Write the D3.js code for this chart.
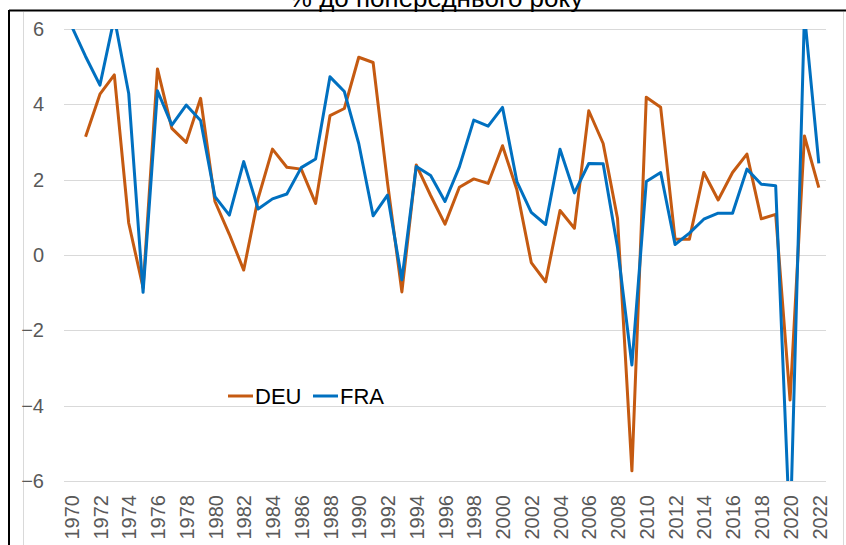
<!DOCTYPE html>
<html>
<head>
<meta charset="utf-8">
<script src="https://cdn.jsdelivr.net/npm/d3@7"></script>
<style>
  body { margin: 0; background: #fff; }
  text { font-family: "Liberation Sans", Arial, sans-serif; }
</style>
</head>
<body>
<script>
const years = d3.range(1970, 2023);
const yTicks = [-6, -4, -2, 0, 2, 4, 6];

// DEU starts in 1971
const deu = [null, 3.14, 4.27, 4.78, 0.85, -0.87, 4.94, 3.36, 2.99, 4.16,
  1.42, 0.55, -0.40, 1.50, 2.81, 2.33, 2.28, 1.37, 3.70, 3.89,
  5.25, 5.11, 1.92, -0.98, 2.39, 1.58, 0.82, 1.80, 2.02, 1.90,
  2.90, 1.73, -0.20, -0.71, 1.18, 0.71, 3.83, 2.96, 0.97, -5.73,
  4.19, 3.92, 0.42, 0.42, 2.19, 1.46, 2.19, 2.68, 0.96, 1.08,
  -3.85, 3.16, 1.79];

const fra = [6.1, 5.27, 4.51, 6.3, 4.29, -0.99, 4.36, 3.45, 3.98, 3.57,
  1.55, 1.06, 2.48, 1.22, 1.49, 1.62, 2.32, 2.55, 4.73, 4.34,
  2.96, 1.04, 1.59, -0.66, 2.35, 2.11, 1.42, 2.34, 3.58, 3.42,
  3.92, 1.95, 1.13, 0.81, 2.81, 1.65, 2.43, 2.42, 0.2, -2.92,
  1.95, 2.19, 0.28, 0.58, 0.95, 1.11, 1.11, 2.28, 1.88, 1.84,
  -7.5, 6.4, 2.43];

const w = 846, h = 545;
const plotLeft = 64, plotRight = 826, plotTop = 29, plotBottom = 481;

const svg = d3.select("body").append("svg")
  .attr("width", w)
  .attr("height", h);

// frame
svg.append("line").attr("x1", 9).attr("x2", 846).attr("y1", 10.5).attr("y2", 10.5)
  .attr("stroke", "#000").attr("stroke-width", 2);
svg.append("line").attr("x1", 9).attr("x2", 9).attr("y1", 10).attr("y2", h)
  .attr("stroke", "#000").attr("stroke-width", 2);
svg.append("line").attr("x1", 23.5).attr("x2", 23.5).attr("y1", 12).attr("y2", h)
  .attr("stroke", "#d9d9d9").attr("stroke-width", 1);
svg.append("line").attr("x1", 843.5).attr("x2", 843.5).attr("y1", 12).attr("y2", h)
  .attr("stroke", "#d9d9d9").attr("stroke-width", 1);

// title (cut off at top, as in the source)
svg.append("text")
  .attr("x", 436)
  .attr("y", 7)
  .attr("text-anchor", "middle")
  .style("font-size", "26px")
  .attr("fill", "#000")
  .text("% до попереднього року");

const x = d3.scalePoint()
  .domain(years)
  .range([plotLeft, plotRight])
  .padding(0.5);

const y = d3.scaleLinear()
  .domain([-6, 6])
  .range([plotBottom, plotTop]);

// gridlines
svg.append("g")
  .selectAll("line")
  .data(yTicks)
  .enter()
  .append("line")
  .attr("x1", plotLeft)
  .attr("x2", plotRight)
  .attr("y1", d => Math.round(y(d)) + 0.5)
  .attr("y2", d => Math.round(y(d)) + 0.5)
  .attr("stroke", "#d9d9d9")
  .attr("stroke-width", 1);

// y axis
const yAxis = d3.axisLeft(y).tickValues(yTicks).tickSize(0).tickPadding(0);
svg.append("g")
  .attr("transform", "translate(44,0)")
  .call(yAxis)
  .call(g => g.select(".domain").remove())
  .selectAll("text")
  .style("font-size", "20px")
  .attr("fill", "#595959");

// x axis
const xAxis = d3.axisBottom(x)
  .tickValues(years.filter(d => d % 2 === 0))
  .tickSize(0);
svg.append("g")
  .attr("transform", `translate(0,${plotBottom})`)
  .call(xAxis)
  .call(g => g.select(".domain").remove())
  .selectAll("text")
  .style("font-size", "20px")
  .attr("fill", "#595959")
  .style("text-anchor", "end")
  .attr("dx", "-14px")
  .attr("dy", "0.36em")
  .attr("transform", "rotate(-90)")
  .attr("y", 0);

// clip to plot area
svg.append("clipPath")
  .attr("id", "plot-clip")
  .append("rect")
  .attr("x", 0)
  .attr("y", plotTop)
  .attr("width", w)
  .attr("height", plotBottom - plotTop);

const line = d3.line()
  .defined(d => d[1] !== null)
  .x(d => x(d[0]))
  .y(d => y(d[1]));

const series = [
  { name: "DEU", values: deu, color: "#C55A11" },
  { name: "FRA", values: fra, color: "#0070C0" }
];

svg.append("g")
  .attr("clip-path", "url(#plot-clip)")
  .selectAll("path")
  .data(series)
  .enter()
  .append("path")
  .attr("fill", "none")
  .attr("stroke", d => d.color)
  .attr("stroke-width", 3)
  .attr("stroke-linejoin", "round")
  .attr("d", d => line(years.map((yr, i) => [yr, d.values[i]])));

// legend
const legend = svg.append("g").attr("transform", "translate(228,396)");
const items = legend.selectAll("g")
  .data(series)
  .enter()
  .append("g")
  .attr("transform", (d, i) => `translate(${i * 85},0)`);
items.append("line")
  .attr("x1", 0).attr("x2", 25)
  .attr("y1", 0).attr("y2", 0)
  .attr("stroke", d => d.color)
  .attr("stroke-width", 3);
items.append("text")
  .attr("x", 27)
  .attr("y", 8)
  .style("font-size", "22px")
  .attr("fill", "#000")
  .text(d => d.name);
</script>
</body>
</html>
